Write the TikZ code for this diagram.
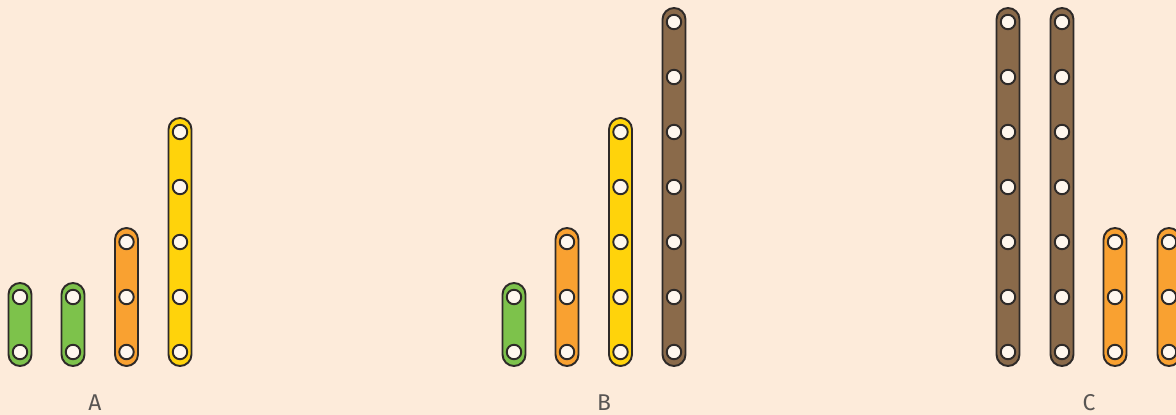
\documentclass[tikz,border=0pt]{standalone}
\usepackage{fontspec}
\setmainfont{Fira Sans}
\usetikzlibrary{positioning}
\definecolor{cBack}{HTML}{FDEBDA}
\definecolor{cGreen}{HTML}{7DC24B}
\definecolor{cOrange}{HTML}{F9A131}
\definecolor{cYellow}{HTML}{FFD30B}
\definecolor{cBrown}{HTML}{8A6A4A}
\definecolor{cLine}{HTML}{2E2A28}
\definecolor{cHole}{HTML}{FFF7EE}
\tikzset{
    stripbox/.style={draw=cLine, line width=1.1pt, rounded corners=0.23cm},
    hole/.style    ={circle, draw=cLine, line width=1.1pt, fill=cHole, minimum size=0.29cm, inner sep=0pt},
    setlabel/.style={font=\fontsize{13}{16}\selectfont, text=cLine!80, anchor=base},
}

\begin{document}
\begin{tikzpicture}[x=0.02cm, y=-0.02cm]
        \fill[cBack] (0,0) rectangle (1176,415);
        \useasboundingbox (0,0) rectangle (1176,415);
        \clip (0,0) rectangle (1176,415);
        % strips: x / holes / colour / name
        \foreach \x/\n/\c/\id in {20/2/cGreen/a1, 73/2/cGreen/a2, 126.5/3/cOrange/a3, 180/5/cYellow/a4,
                                 514/2/cGreen/b1, 567/3/cOrange/b2, 620.5/5/cYellow/b3, 674/7/cBrown/b4,
                                 1008/7/cBrown/c1, 1062/7/cBrown/c2, 1115/3/cOrange/c3, 1169/3/cOrange/c4}{
            \pgfmathsetmacro{\top}{352-55*(\n-1)}
            \draw[stripbox, fill=\c] (\x-11.5,366) rectangle (\x+11.5,\top-14);
            \foreach \k in {1,...,\n}
                \node[hole] (\id-\k) at (\x,352-55*\k+55) {};
        }
        % labels
        \node[setlabel] (labA) at (95,410) {A};
        \node[setlabel] (labB) at (604,410) {B};
        \node[setlabel] (labC) at (1089,410) {C};
    \end{tikzpicture}
\end{document}
